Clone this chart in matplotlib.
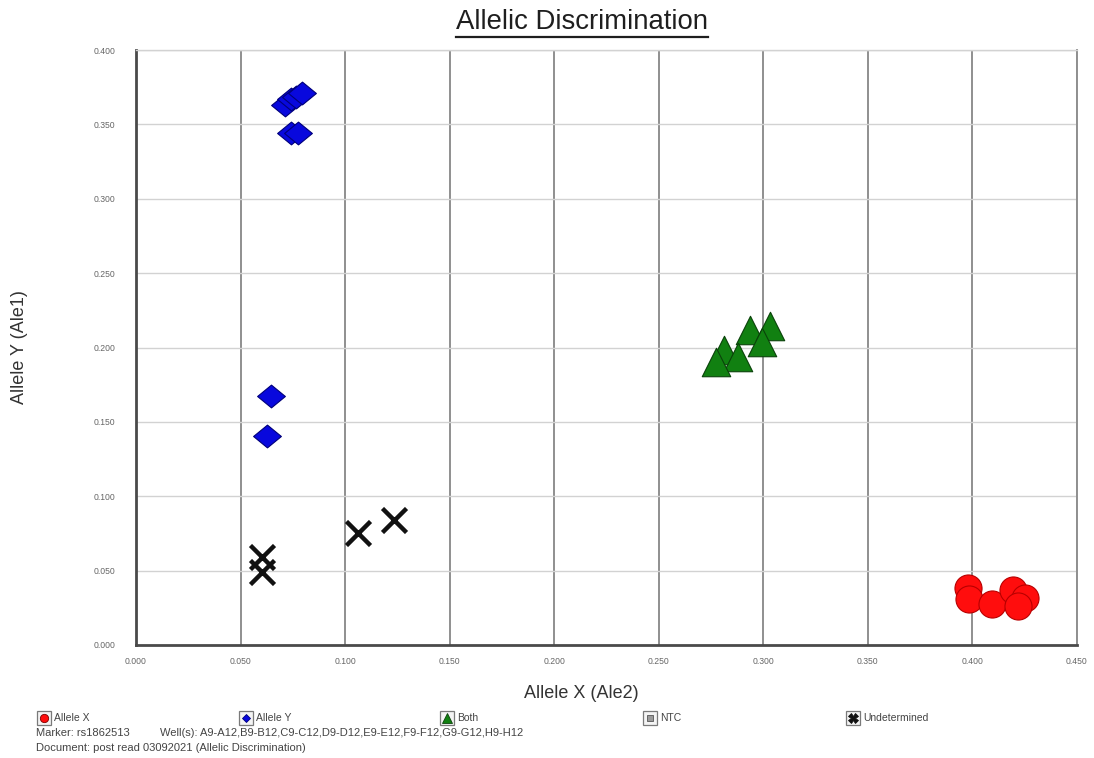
import matplotlib
matplotlib.use("Agg")
import matplotlib.pyplot as plt
from matplotlib.lines import Line2D
from matplotlib.patches import Rectangle
from matplotlib.path import Path

plt.rcParams['font.family'] = ['Liberation Sans', 'DejaVu Sans']

# Genotype calls: (Allele X signal, Allele Y signal) per well
allele_x_x = [0.3979, 0.3984, 0.4094, 0.4194, 0.4252, 0.4218]
allele_x_y = [0.0383, 0.0309, 0.0276, 0.0370, 0.0316, 0.0262]

allele_y_x = [0.0713, 0.0741, 0.0765, 0.0794, 0.0741, 0.0775, 0.0646, 0.0627]
allele_y_y = [0.3630, 0.3671, 0.3684, 0.3711, 0.3442, 0.3442, 0.1674, 0.1405]

both_x = [0.2936, 0.3032, 0.2994, 0.2812, 0.2879, 0.2774]
both_y = [0.2118, 0.2145, 0.2037, 0.1983, 0.1936, 0.1903]

undet_x = [0.0603, 0.0603, 0.1062, 0.1234]
undet_y = [0.0592, 0.0491, 0.0753, 0.0840]

x_ticks = [0.0, 0.05, 0.10, 0.15, 0.20, 0.25, 0.30, 0.35, 0.40, 0.45]
y_ticks = [0.0, 0.05, 0.10, 0.15, 0.20, 0.25, 0.30, 0.35, 0.40]

legend_labels = ["Allele X", "Allele Y", "Both", "NTC", "Undetermined"]
marker_text = "Marker: rs1862513"
wells_text = "Well(s): A9-A12,B9-B12,C9-C12,D9-D12,E9-E12,F9-F12,G9-G12,H9-H12"
document_text = "Document: post read 03092021 (Allelic Discrimination)"

W, H = 1094, 758
fig = plt.figure(figsize=(W / 100, H / 100), dpi=100)
fig.patch.set_facecolor("white")

def fx(px):
    return px / W

def fy(py):
    return 1 - py / H

ax = fig.add_axes([fx(136), fy(645), fx(1077) - fx(136), fy(50) - fy(645)])
ax.set_xlim(0, 0.45)
ax.set_ylim(0, 0.40)
ax.set_xticks(x_ticks)
ax.set_yticks(y_ticks)
ax.set_xticklabels([f"{v:.3f}" for v in x_ticks])
ax.set_yticklabels([f"{v:.3f}" for v in y_ticks])
ax.tick_params(axis="both", length=0, labelsize=6.2, labelcolor="#666666")
ax.tick_params(axis="x", pad=9)
ax.tick_params(axis="y", pad=15)

# grid: darker verticals, faint horizontals
for xv in x_ticks[1:]:
    ax.axvline(xv, color="#8f8f8f", lw=1.4, zorder=0.5)
for yv in y_ticks[1:]:
    ax.axhline(yv, color="#d2d2d2", lw=1.0, zorder=0.5)

for side in ("left", "bottom"):
    ax.spines[side].set_color("#4a4a4a")
    ax.spines[side].set_linewidth(2.0)
ax.spines["top"].set_color("#d2d2d2")
ax.spines["top"].set_linewidth(1.0)
ax.spines["right"].set_color("#8f8f8f")
ax.spines["right"].set_linewidth(1.4)

diamond = Path([(-1.0, 0.0), (0.0, 0.82), (1.0, 0.0), (0.0, -0.82), (-1.0, 0.0)],
               [Path.MOVETO, Path.LINETO, Path.LINETO, Path.LINETO, Path.CLOSEPOLY])

ax.scatter(allele_x_x, allele_x_y, s=380, marker="o", facecolor="#ff0d0d",
           edgecolor="#b80000", linewidth=0.8, zorder=3)
ax.scatter(allele_y_x, allele_y_y, s=400, marker=diamond, facecolor="#0808dd",
           edgecolor="#00007a", linewidth=0.8, zorder=3)
ax.scatter(both_x, both_y, s=420, marker="^", facecolor="#118011",
           edgecolor="#0a420a", linewidth=0.8, zorder=3)
ax.scatter(undet_x, undet_y, s=300, marker="x", color="#111111",
           linewidth=3.2, zorder=3)

fig.text(fx(581), fy(693), "Allele X (Ale2)", fontsize=13, color="#333333",
         ha="center", va="center")
fig.text(fx(20), fy(347), "Allele Y (Ale1)", fontsize=13, color="#333333",
         ha="center", va="center", rotation=90)

title = fig.text(fx(582), fy(22), "Allelic Discrimination", fontsize=19.8,
                 color="#1e1e1e", ha="center", va="center")
fig.canvas.draw()
bb = title.get_window_extent(fig.canvas.get_renderer())
uy = bb.y0 - 2
fig.add_artist(Line2D([bb.x0 / W, bb.x1 / W], [uy / H, uy / H],
                      color="#1e1e1e", lw=1.6, transform=fig.transFigure))

# footer legend with boxed symbols
icon_x = [44, 246, 447, 650, 853]
icon_styles = [
    dict(marker="o", mfc="#ff0d0d", mec="#7a0000", ms=6),
    dict(marker="D", mfc="#0808dd", mec="#00007a", ms=4.5),
    dict(marker="^", mfc="#118011", mec="#0a420a", ms=7),
    dict(marker="s", mfc="#9a9a9a", mec="#555555", ms=5),
    dict(marker="X", mfc="#111111", mec="#111111", ms=7),
]
row_y = 718
for px, label, st in zip(icon_x, legend_labels, icon_styles):
    fig.add_artist(Rectangle((fx(px - 7), fy(row_y + 7)), 14 / W, 14 / H,
                             facecolor="#f4f4f4", edgecolor="#7a7a7a", lw=0.9,
                             transform=fig.transFigure))
    fig.add_artist(Line2D([fx(px)], [fy(row_y)], linestyle="none",
                          markeredgewidth=0.6, transform=fig.transFigure, **st))
    fig.text(fx(px + 10), fy(row_y), label, fontsize=7.5, color="#444444",
             ha="left", va="center")

fig.text(fx(36), fy(733), marker_text, fontsize=8, color="#444444",
         ha="left", va="center")
fig.text(fx(160), fy(733), wells_text, fontsize=8, color="#444444",
         ha="left", va="center")
fig.text(fx(36), fy(748), document_text, fontsize=8, color="#444444",
         ha="left", va="center")

fig.savefig("out.png", dpi=100, facecolor="white")
